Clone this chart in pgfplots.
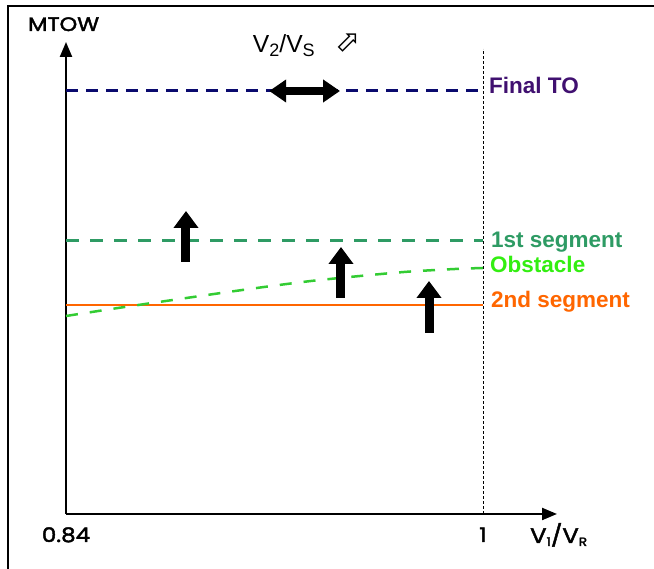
\documentclass[border=0pt]{standalone}
\usepackage{pgfplots}
\pgfplotsset{compat=1.18}
\usetikzlibrary{arrows.meta}
\usepackage{fontspec}
\setmainfont{Liberation Sans}
\newfontfamily\gothic[FakeBold=2.2,FakeStretch=1.15]{Poppins}
\newfontfamily\dejavu{DejaVu Sans}
\definecolor{navyline}{HTML}{0A0A6E}
\definecolor{finalc}{HTML}{401070}
\definecolor{seg1}{HTML}{2E9B64}
\definecolor{obstl}{HTML}{33CC33}
\definecolor{obstt}{HTML}{33EE11}
\definecolor{seg2}{HTML}{FF6600}
\begin{document}
\begin{tikzpicture}[x=1pt,y=1pt]
\useasboundingbox (0,0) rectangle (654,569);
\draw[line width=1.8pt] (8,0) -- (8,563) -- (654,563);
\begin{axis}[
  at={(66pt,55pt)}, anchor=south west,
  scale only axis, width=491pt, height=472pt,
  xmin=0.84, xmax=1.02839, ymin=0, ymax=472,
  axis lines=left,
  axis line style={line width=2.2pt, -{Triangle[width=12pt,length=15pt]}},
  xtick={0.84,1}, xticklabels={0.84,1},
  ytick=\empty,
  major tick length=0pt,
  xticklabel style={font=\gothic\fontsize{20}{20}\selectfont, anchor=base, yshift=-28pt},
  clip=false,
]
\addplot[navyline, line width=3pt, dash pattern=on 12pt off 8pt] coordinates {(0.84,423) (1,423)};
\addplot[seg1, line width=3pt, dash pattern=on 13pt off 11pt] coordinates {(0.84,273) (1,273)};
\addplot[seg2, line width=2.5pt] coordinates {(0.84,209) (1,209)};
\addplot[obstl, line width=2.5pt, dash pattern=on 12pt off 12pt, smooth] coordinates {
(0.84,198) (0.8607,206.3) (0.8791,213.3) (0.8976,220.3) (0.9160,227)
(0.9340,233) (0.9528,238) (0.9712,242.3) (0.9893,245) (1.0,246)};
\addplot[black, line width=1pt, dash pattern=on 3pt off 2pt] coordinates {(1,0) (1,465)};
% block arrows
\addplot[black, line width=9pt, -{Triangle[width=24pt,length=17pt]}] coordinates {(0.88604,252) (0.88604,303)};
\addplot[black, line width=9pt, -{Triangle[width=24pt,length=17pt]}] coordinates {(0.94551,216) (0.94551,267)};
\addplot[black, line width=9pt, -{Triangle[width=24pt,length=17pt]}] coordinates {(0.97928,181) (0.97928,233)};
\addplot[black, line width=7.5pt, {Triangle[width=22pt,length=17pt]}-{Triangle[width=22pt,length=17pt]}] coordinates {(0.91797,423) (0.94513,423)};
% labels
\node[anchor=base west, inner sep=0, text=finalc, font=\bfseries\fontsize{22.5}{22.5}\selectfont] at (axis cs:1.00230,420) {Final TO};
\node[anchor=base west, inner sep=0, text=seg1, font=\bfseries\fontsize{22.5}{22.5}\selectfont] at (axis cs:1.00307,266) {1st segment};
\node[anchor=base west, inner sep=0, text=obstt, font=\bfseries\fontsize{22.5}{22.5}\selectfont] at (axis cs:1.00269,241) {Obstacle};
\node[anchor=base west, inner sep=0, text=seg2, font=\bfseries\fontsize{22.5}{22.5}\selectfont] at (axis cs:1.00307,206) {2nd segment};
\node[anchor=base west, inner sep=0, font=\fontsize{24.7}{24.7}\selectfont] at (axis cs:0.91164,461.3)
  {V\raisebox{-4pt}{\fontsize{18}{18}\selectfont 2}/V\raisebox{-4pt}{\fontsize{18}{18}\selectfont S}\hspace{21pt}\raisebox{1pt}{\dejavu\fontsize{30}{30}\selectfont ⬀}};
\node[anchor=base west, inner sep=0, font=\gothic\fontsize{19.5}{19.5}\selectfont] at (axis cs:0.82542,483) {MTOW};
\node[anchor=base west, inner sep=0, font=\gothic\fontsize{21}{21}\selectfont] at (axis cs:1.01803,-29)
  {V\raisebox{-3pt}{\fontsize{12}{12}\selectfont 1}/V\raisebox{-3pt}{\fontsize{12}{12}\selectfont R}};
\end{axis}
\end{tikzpicture}
\end{document}
